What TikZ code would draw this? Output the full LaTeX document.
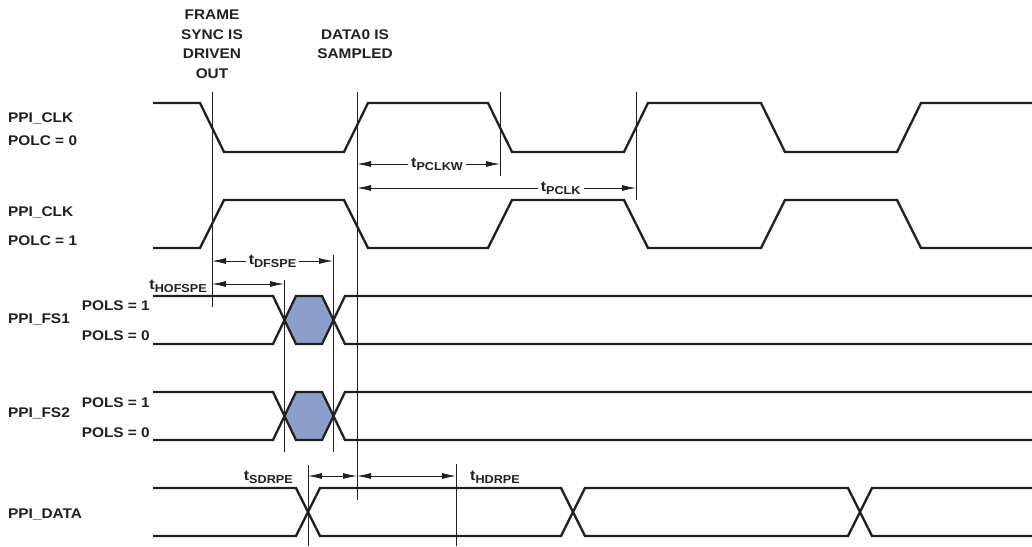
\documentclass[tikz,border=0pt]{standalone}
\usepackage{fontspec}
\setmainfont{Liberation Sans}[FakeStretch=1.1]
\usetikzlibrary{arrows.meta,positioning}
\definecolor{inkblk}{RGB}{35,31,32}
\definecolor{fsblue}{RGB}{138,160,203}
\newcommand{\tsub}[1]{t\raisebox{-0.4ex}{\fontsize{11.5}{11.5}\selectfont #1}}
\tikzset{
  wave/.style={draw=inkblk, line width=2.3pt},
  vline/.style={draw=inkblk, line width=0.8pt},
  dim/.style={draw=inkblk, line width=0.8pt, >={Latex[length=14pt,width=6pt]}, <->},
  sig/.style={font=\bfseries\fontsize{14}{19}\selectfont, text=inkblk,
    inner sep=0pt, text height=10pt, text depth=0pt},
  hdr/.style={font=\bfseries\fontsize{14}{19.5}\selectfont, text=inkblk,
    inner sep=0pt, align=center, anchor=north},
  tlabel/.style={font=\bfseries\fontsize{14.5}{16}\selectfont, text=inkblk,
    inner xsep=3pt, inner ysep=0pt, fill=white}
}
\begin{document}
\begin{tikzpicture}[x=1pt,y=-1pt]
\useasboundingbox (0,0) rectangle (1032,546);

\node[hdr] (hdfs) at (212,10) {FRAME\\SYNC IS\\DRIVEN\\OUT};
\node[hdr] (hdsmp) at (355,29.5) {DATA0 IS\\SAMPLED};

\node[sig, anchor=west] (clk0) at (8,117) {PPI\_CLK};
\node[sig, anchor=west] (polc0) at (8,140) {POLC = 0};
\node[sig, anchor=west] (clk1) at (8,211) {PPI\_CLK};
\node[sig, anchor=west] (polc1) at (8,240) {POLC = 1};
\node[sig, anchor=west] (fs1) at (8,318) {PPI\_FS1};
\node[sig, anchor=east] (fs1hi) at (150,305) {POLS = 1};
\node[sig, anchor=east] (fs1lo) at (150,335) {POLS = 0};
\node[sig, anchor=west] (fs2) at (8,412) {PPI\_FS2};
\node[sig, anchor=east] (fs2hi) at (150,402) {POLS = 1};
\node[sig, anchor=east] (fs2lo) at (150,432) {POLS = 0};
\node[sig, anchor=west] (data) at (8,513) {PPI\_DATA};

\fill[fsblue] (284.5,320) -- (296,296) -- (322,296) -- (333.5,320) -- (322,344) -- (296,344) -- cycle;
\fill[fsblue] (284.5,416) -- (296,392) -- (322,392) -- (333.5,416) -- (322,440) -- (296,440) -- cycle;

\draw[wave] (153,103) -- (200,103) -- (224,152) -- (344,152) -- (368,103) -- (488,103)
  -- (512,152) -- (624,152) -- (648,103) -- (761,103) -- (785,152) -- (897,152)
  -- (921,103) -- (1032,103);
\draw[wave] (153,248) -- (200,248) -- (224,200) -- (344,200) -- (368,248) -- (488,248)
  -- (512,200) -- (624,200) -- (648,248) -- (761,248) -- (785,200) -- (897,200)
  -- (921,248) -- (1032,248);
\draw[wave] (153,296) -- (273,296) -- (296,344) -- (322,344) -- (345,296) -- (1032,296);
\draw[wave] (153,344) -- (273,344) -- (296,296) -- (322,296) -- (345,344) -- (1032,344);
\draw[wave] (153,392) -- (273,392) -- (296,440) -- (322,440) -- (345,392) -- (1032,392);
\draw[wave] (153,440) -- (273,440) -- (296,392) -- (322,392) -- (345,440) -- (1032,440);
\draw[wave] (153,488) -- (296,488) -- (320,536) -- (561,536) -- (585,488) -- (848,488)
  -- (872,536) -- (1032,536);
\draw[wave] (153,536) -- (296,536) -- (320,488) -- (561,488) -- (585,536) -- (848,536)
  -- (872,488) -- (1032,488);

\coordinate (fso-t) at (212,92);  \coordinate (fso-b) at (212,307);
\coordinate (smp-t) at (357,92);  \coordinate (smp-b) at (357,500);
\coordinate (pw-t) at (500,92);   \coordinate (pw-b) at (500,176);
\coordinate (pc-t) at (636,92);   \coordinate (pc-b) at (636,200);
\coordinate (hof-t) at (284,280); \coordinate (hof-b) at (284,452);
\coordinate (dfs-t) at (333,255); \coordinate (dfs-b) at (333,452);
\coordinate (sd-t) at (308,465);  \coordinate (sd-b) at (308,546);
\coordinate (hd-t) at (456,464);  \coordinate (hd-b) at (456,546);

\draw[vline] (fso-t) -- (fso-b);
\draw[vline] (smp-t) -- (smp-b);
\draw[vline] (pw-t) -- (pw-b);
\draw[vline] (pc-t) -- (pc-b);
\draw[vline] (hof-t) -- (hof-b);
\draw[vline] (dfs-t) -- (dfs-b);
\draw[vline] (sd-t) -- (sd-b);
\draw[vline] (hd-t) -- (hd-b);

\draw[dim] (smp-t |- 0,164) -- node[tlabel, pos=0.56] (pclkw) {\tsub{PCLKW}} (pw-t |- 0,164);
\draw[dim] (smp-t |- 0,188) -- node[tlabel, pos=0.73] (pclk) {\tsub{PCLK}} (pc-t |- 0,188);
\draw[dim] (fso-t |- 0,261) -- node[tlabel, pos=0.5] (dfspe) {\tsub{DFSPE}} (dfs-t |- 0,261);
\draw[dim] (fso-t |- 0,284) coordinate (hofL) -- (hof-t |- 0,284);
\draw[dim] (sd-t |- 0,476) coordinate (sdL) -- (smp-t |- 0,476);
\draw[dim] (smp-t |- 0,476) -- (hd-t |- 0,476) coordinate (hdR);

\node[tlabel, left=2pt of hofL, yshift=-2pt] (hofspe) {\tsub{HOFSPE}};
\node[tlabel, left=12pt of sdL, yshift=-1pt] (sdrpe) {\tsub{SDRPE}};
\node[tlabel, right=11pt of hdR, yshift=-1pt] (hdrpe) {\tsub{HDRPE}};
\end{tikzpicture}
\end{document}
